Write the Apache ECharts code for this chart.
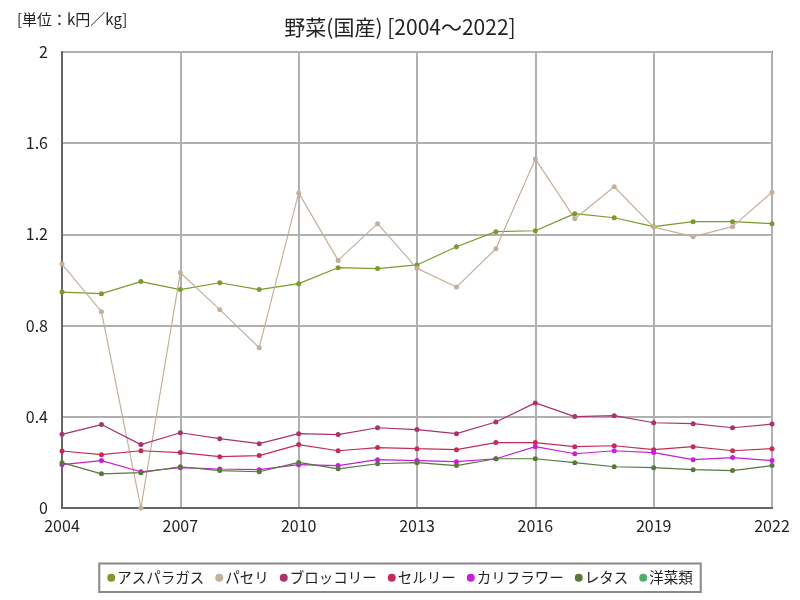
<!DOCTYPE html>
<html><head><meta charset="utf-8">
<script src="https://cdn.jsdelivr.net/npm/echarts@6/dist/echarts.min.js"></script>
<style>html,body{margin:0;padding:0;background:#fff}#c{width:800px;height:600px}</style>
</head><body><div id="c"></div>
<script>
const years = ["2004","2005","2006","2007","2008","2009","2010","2011","2012","2013","2014","2015","2016","2017","2018","2019","2020","2021","2022"];
const asparagus = [0.947,0.940,0.993,0.958,0.988,0.958,0.984,1.054,1.050,1.066,1.146,1.212,1.216,1.291,1.273,1.234,1.256,1.256,1.247];
const parsley = [1.07,0.861,0.0,1.032,0.870,0.703,1.382,1.086,1.247,1.051,0.969,1.137,1.531,1.269,1.409,1.232,1.190,1.234,1.385];
const broccoli = [0.323,0.366,0.278,0.330,0.304,0.282,0.326,0.322,0.352,0.344,0.326,0.377,0.461,0.401,0.405,0.374,0.370,0.352,0.368];
const celery = [0.250,0.234,0.251,0.243,0.225,0.230,0.278,0.251,0.265,0.260,0.256,0.287,0.287,0.269,0.273,0.256,0.269,0.251,0.260];
const cauliflower = [0.190,0.208,0.159,0.177,0.171,0.168,0.190,0.186,0.212,0.208,0.203,0.216,0.269,0.238,0.251,0.243,0.212,0.221,0.208];
const lettuce = [0.199,0.150,0.155,0.181,0.164,0.159,0.200,0.172,0.194,0.199,0.186,0.216,0.216,0.199,0.181,0.177,0.168,0.164,0.186];
const westernVeg = [];
const yTicks = [0, 0.4, 0.8, 1.2, 1.6, 2];

const names = ["アスパラガス","パセリ","ブロッコリー","セルリー","カリフラワー","レタス","洋菜類"];
const colors = ["#7c9a2c","#c4b09a","#a8336f","#c42c58","#c81ed8","#557a3a","#4caf68"];
const datas = [asparagus, parsley, broccoli, celery, cauliflower, lettuce, westernVeg];
const font = '"Noto Sans CJK JP", sans-serif';

const chart = echarts.init(document.getElementById('c'));
chart.setOption({
  animation:false,
  backgroundColor:'#fff',
  title:[
    {text:'野菜(国産) [2004～2022]', left:'center', top:12, textStyle:{fontFamily:font, fontSize:21, fontWeight:'normal', color:'#222'}},
    {text:'[単位：k円／kg]', left:12, top:7, textStyle:{fontFamily:font, fontSize:15, fontWeight:'normal', color:'#222'}}
  ],
  grid:{left:62, right:28, top:52, bottom:92, show:true, borderColor:'#666', borderWidth:2, backgroundColor:'#fff'},
  legend:{
    bottom:8, left:'center', itemWidth:8, itemHeight:8, itemGap:11, icon:'circle',
    padding:[7,8,7,8], borderColor:'#888', borderWidth:2,
    textStyle:{fontFamily:font, fontSize:14.5, color:'#222', padding:[0,0,0,-3]},
    data:names
  },
  xAxis:{
    type:'category', data:years, boundaryGap:false,
    axisLine:{lineStyle:{color:'#666', width:2}},
    axisTick:{show:false},
    axisLabel:{interval:2, fontFamily:font, fontSize:16, color:'#222', margin:10},
    splitLine:{show:true, interval:2, lineStyle:{color:'#b0b0b0', width:2}}
  },
  yAxis:{
    type:'value', min:0, max:2, interval:0.4,
    axisLine:{show:true, lineStyle:{color:'#666', width:2}},
    axisTick:{show:false},
    axisLabel:{fontFamily:font, fontSize:16, color:'#222', margin:14,
      formatter:function(v){ const t = yTicks.find(x=>Math.abs(x-v)<1e-9); return t===undefined? '' : String(t);} },
    splitLine:{show:true, lineStyle:{color:'#b0b0b0', width:2}}
  },
  series: names.map((n,i)=>({
    name:n, type:'line', data:datas[i], symbol:'circle', symbolSize:5,
    itemStyle:{color:colors[i]}, lineStyle:{color:colors[i], width:1.2}
  }))
});
</script></body></html>
